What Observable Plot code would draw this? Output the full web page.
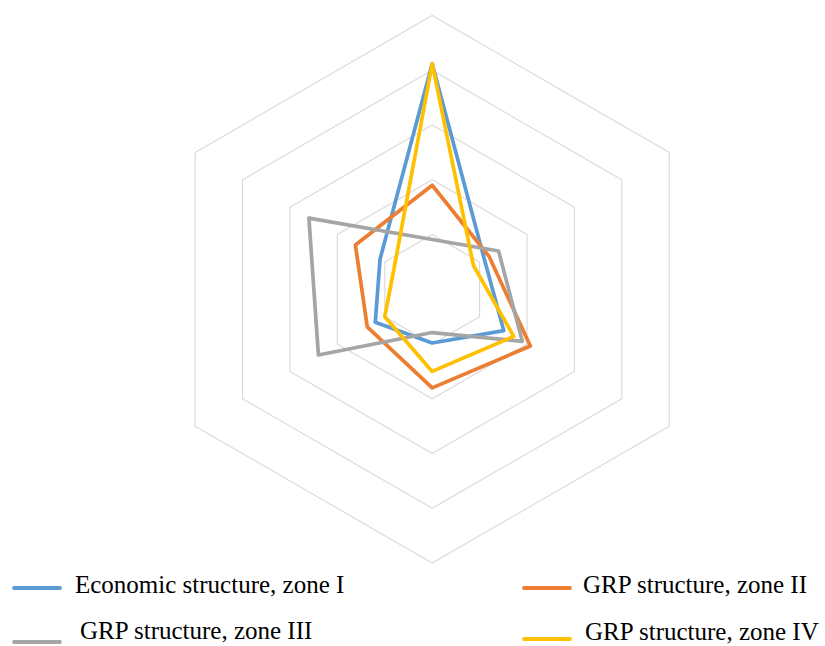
<!DOCTYPE html>
<html><head><meta charset="utf-8">
<script src="https://cdn.jsdelivr.net/npm/d3@7"></script>
<script src="https://cdn.jsdelivr.net/npm/@observablehq/plot@0.6"></script>
<style>
body{margin:0;background:#fff;}
#chart{position:relative;width:825px;height:646px;overflow:hidden;}
#legend{position:absolute;left:0;top:565px;}
</style>
</head><body><div id="chart"></div>
<script>
// Six radar axes (clockwise from the top); the original shows no axis labels
const axes = ["Axis 1", "Axis 2", "Axis 3", "Axis 4", "Axis 5", "Axis 6"];
const seriesNames = ["Economic structure, zone I", "GRP structure, zone II", "GRP structure, zone III", "GRP structure, zone IV"];
// shares, % (each series sums to ~100)
const econZone1 = [41.2, 11.0, 15.1, 9.8, 12.0, 11.0];
const grpZone2  = [19.0, 12.0, 20.7, 18.0, 13.7, 16.2];
const grpZone3  = [9.1, 14.0, 19.0, 7.9, 24.0, 26.0];
const grpZone4  = [41.2, 8.7, 17.2, 15.0, 10.0, 8.0];
const gridLevels = [10, 20, 30, 40, 50];
const seriesColors = ["#5B9BD5", "#ED7D31", "#A5A5A5", "#FFC000"];

const seriesValues = [econZone1, grpZone2, grpZone3, grpZone4];
const angleOf = i => (i * 2 * Math.PI) / axes.length;

const gridData = gridLevels.flatMap(level =>
  axes.map((a, i) => ({level, axis: a, x: level * Math.sin(angleOf(i)), y: level * Math.cos(angleOf(i))}))
);
const seriesData = seriesNames.flatMap((name, s) =>
  axes.map((a, i) => ({series: name, axis: a, value: seriesValues[s][i],
    x: seriesValues[s][i] * Math.sin(angleOf(i)), y: seriesValues[s][i] * Math.cos(angleOf(i))}))
);

const chart = Plot.plot({
  width: 825,
  height: 565,
  margin: 0,
  x: {domain: [-78.85, 71.84], axis: null},
  y: {domain: [-50.45, 52.75], axis: null},
  color: {domain: seriesNames, range: seriesColors},
  style: {background: "#fff"},
  marks: [
    Plot.line(gridData, {x: "x", y: "y", z: "level", stroke: "#d9d9d9", strokeWidth: 1.1, curve: "linear-closed"}),
    Plot.line(seriesData, {x: "x", y: "y", z: "series", stroke: "series", strokeWidth: 3.7, curve: "linear-closed", strokeLinejoin: "round"})
  ]
});
document.getElementById("chart").appendChild(chart);

// Legend below the plot
const legendPos = [
  {lx: 14, ly: 23, tx: 75, ty: 28},
  {lx: 524, ly: 23, tx: 583, ty: 28},
  {lx: 14, ly: 77, tx: 80, ty: 74},
  {lx: 524, ly: 74, tx: 585, ty: 75}
];
const ns = "http://www.w3.org/2000/svg";
const leg = document.createElementNS(ns, "svg");
leg.setAttribute("id", "legend");
leg.setAttribute("width", 825);
leg.setAttribute("height", 81);
seriesNames.forEach((name, i) => {
  const p = legendPos[i];
  const ln = document.createElementNS(ns, "line");
  ln.setAttribute("x1", p.lx); ln.setAttribute("x2", p.lx + 46);
  ln.setAttribute("y1", p.ly); ln.setAttribute("y2", p.ly);
  ln.setAttribute("stroke", seriesColors[i]);
  ln.setAttribute("stroke-width", 3.8);
  ln.setAttribute("stroke-linecap", "round");
  leg.appendChild(ln);
  const t = document.createElementNS(ns, "text");
  t.setAttribute("x", p.tx); t.setAttribute("y", p.ty);
  t.setAttribute("font-family", "'Liberation Serif', 'Times New Roman', serif");
  t.setAttribute("font-size", 25);
  t.setAttribute("fill", "#000");
  t.textContent = name;
  leg.appendChild(t);
});
document.getElementById("chart").appendChild(leg);
</script>
</body></html>
